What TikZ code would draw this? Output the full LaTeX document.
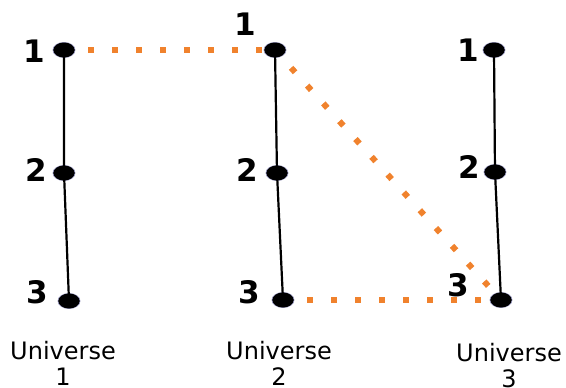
\documentclass[tikz,border=0pt]{standalone}
\usepackage{fontspec}
\setmainfont{DejaVu Sans}
\usetikzlibrary{shapes.geometric}
\definecolor{dotorange}{RGB}{240,130,45}
\tikzset{
    pt/.style={ellipse, fill=black, draw=black!60!blue!40, line width=0.8pt,
        minimum width=22pt, minimum height=15pt, inner sep=0pt},
    num/.style={font=\fontsize{31}{33}\selectfont\bfseries},
    uni/.style={font=\fontsize{24}{26}\selectfont, align=center},
    link/.style={dotorange, line width=6pt, dash pattern=on 6pt off 18pt}
}
\begin{document}
\begin{tikzpicture}[x=1pt, y=-1pt]
    \useasboundingbox (0,0) rectangle (566,388);
    % universe 1
    \node[pt] (a1) at (64,50) {};
    \node[pt] (a2) at (64,173) {};
    \node[pt] (a3) at (69,301) {};
    % universe 2
    \node[pt] (b1) at (275,50) {};
    \node[pt] (b2) at (277,173) {};
    \node[pt] (b3) at (283,300) {};
    % universe 3
    \node[pt] (c1) at (494,50) {};
    \node[pt] (c2) at (495,172) {};
    \node[pt] (c3) at (501,300) {};
    % lines
    \foreach \u in {a,b,c} {
        \draw[line width=2.2pt] (\u1.center) -- (\u2.center) -- (\u3.center);
    }
    \draw[link] (a1.center) -- (b1.center);
    \draw[link] (b1.center) -- (c3.center);
    \draw[link] (b3.center) -- (c3.center);
    \foreach \u in {a,b,c} {
        \foreach \k in {1,2,3} {
            \fill (\u\k) ellipse (10.5pt and 7.5pt);
        }
    }
    % labels
    \node[num] (la1) at (34,51) {1};
    \node[num] (la2) at (36,170) {2};
    \node[num] (la3) at (37,292) {3};
    \node[num] (lb1) at (245,24) {1};
    \node[num] (lb2) at (247,170) {2};
    \node[num] (lb3) at (249,292) {3};
    \node[num] (lc1) at (468,50) {1};
    \node[num] (lc2) at (469,167) {2};
    \node[num] (lc3) at (458,285) {3};
    \node[uni] (ua) at (63,363) {Universe\\1};
    \node[uni] (ub) at (279,363) {Universe\\2};
    \node[uni] (uc) at (509,366) {Universe\\3};
\end{tikzpicture}
\end{document}
